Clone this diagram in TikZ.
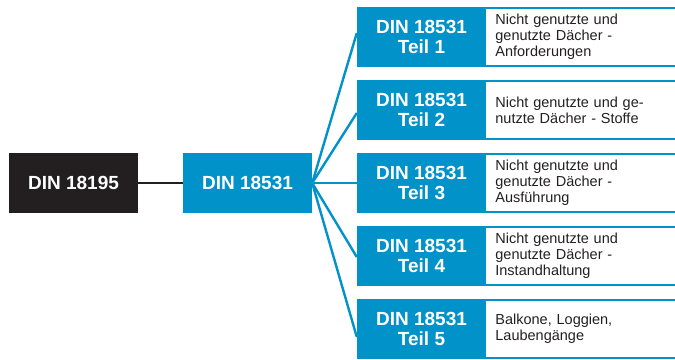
\documentclass[tikz,border=0pt]{standalone}
\usepackage{fontspec}
\setmainfont{Liberation Sans}
\usetikzlibrary{calc}
\definecolor{dinblue}{RGB}{0,146,200}
\definecolor{dindark}{RGB}{35,31,32}
\definecolor{desctext}{RGB}{35,31,32}
\tikzset{
  headbox/.style={rectangle, inner sep=0pt, minimum width=129pt, minimum height=60pt,
    text=white, align=center, font=\fontsize{19}{19.5}\selectfont\bfseries},
  darkbox/.style={headbox, fill=dindark},
  bluebox/.style={headbox, fill=dinblue},
  descbox/.style={rectangle, anchor=west, inner xsep=9pt, inner ysep=0pt,
    minimum width=189pt, minimum height=60pt, text width=171pt, align=left,
    text=desctext, font=\fontsize{14.5}{16}\selectfont},
  rule/.style={draw=dinblue, line width=1.9pt},
  fan/.style={draw=dinblue, line width=2.4pt},
  link/.style={draw=dindark, line width=2.6pt}
}
\begin{document}
\begin{tikzpicture}[x=1pt,y=-1pt]
\useasboundingbox (0,0) rectangle (675,359);

% main standards
\node[darkbox] (d1) at (73.5,183) {DIN 18195};
\node[bluebox] (d2) at (247.5,183) {DIN 18531};

% parts of DIN 18531
\node[bluebox] (t1) at (421.5,37)  {DIN 18531\\Teil 1};
\node[bluebox] (t2) at (421.5,110) {DIN 18531\\Teil 2};
\node[bluebox] (t3) at (421.5,183) {DIN 18531\\Teil 3};
\node[bluebox] (t4) at (421.5,256) {DIN 18531\\Teil 4};
\node[bluebox] (t5) at (421.5,329) {DIN 18531\\Teil 5};

% descriptions
\node[descbox] (b1) at (t1.east) {Nicht genutzte und\\genutzte Dächer -\\Anforderungen};
\node[descbox] (b2) at (t2.east) {Nicht genutzte und ge-\\nutzte Dächer - Stoffe};
\node[descbox] (b3) at (t3.east) {Nicht genutzte und\\genutzte Dächer -\\Ausführung};
\node[descbox] (b4) at (t4.east) {Nicht genutzte und\\genutzte Dächer -\\Instandhaltung};
\node[descbox] (b5) at (t5.east) {Balkone, Loggien,\\Laubengänge};

% top and bottom rules of the description fields
\foreach \b in {b1,b2,b3,b4,b5}{
  \draw[rule] ([yshift=-1pt]\b.north west) -- ([yshift=-1pt]\b.north east);
  \draw[rule] ([yshift=1pt]\b.south west) -- ([yshift=1pt]\b.south east);
}

% connectors
\draw[link] (d1.east) -- (d2.east -| d2.west);
\draw[fan] (d2.east) -- ($(t1.west)+(0,-4)$);
\draw[fan] (d2.east) -- ($(t2.west)+(0,3)$);
\draw[fan] (d2.east) -- (t3.west);
\draw[fan] (d2.east) -- ($(t4.west)+(0,1)$);
\draw[fan] (d2.east) -- ($(t5.west)+(0,8)$);
\end{tikzpicture}
\end{document}
